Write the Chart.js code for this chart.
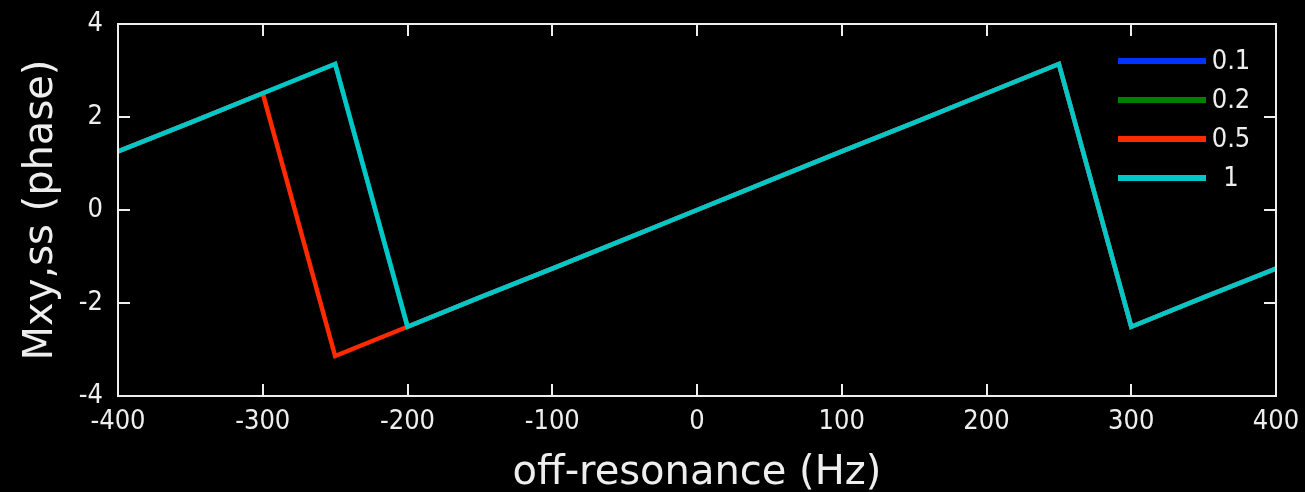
<!DOCTYPE html>
<html>
<head>
<meta charset="utf-8">
<script src="https://cdn.jsdelivr.net/npm/chart.js@4.4.1/dist/chart.umd.min.js"></script>
<style>
  html, body { margin: 0; padding: 0; background: #000; }
  #wrap { width: 1305px; height: 492px; }
</style>
</head>
<body>
<div id="wrap"><canvas id="chart" width="1305" height="492"></canvas></div>
<script>
// off-resonance frequencies (Hz)
const freqs = [-400, -350, -300, -250, -200, -150, -100, -50, 0, 50, 100, 150, 200, 250, 300, 350, 400];

// phase of Mxy,ss for each series
const phase01 = [1.26, 1.88, 2.51, 3.14, -2.51, -1.88, -1.26, -0.63, 0, 0.63, 1.26, 1.88, 2.51, 3.14, -2.51, -1.88, -1.26];
const phase02 = [1.26, 1.88, 2.51, 3.14, -2.51, -1.88, -1.26, -0.63, 0, 0.63, 1.26, 1.88, 2.51, 3.14, -2.51, -1.88, -1.26];
const phase05 = [1.26, 1.88, 2.51, -3.14, -2.51, -1.88, -1.26, -0.63, 0, 0.63, 1.26, 1.88, 2.51, 3.14, -2.51, -1.88, -1.26];
const phase1  = [1.26, 1.88, 2.51, 3.14, -2.51, -1.88, -1.26, -0.63, 0, 0.63, 1.26, 1.88, 2.51, 3.14, -2.51, -1.88, -1.26];

const seriesLabels = ["0.1", "0.2", "0.5", "1"];
const seriesColors = ["#0033ff", "#008000", "#ff2a00", "#00c8c8"];

const textColor = "#eeeeee";
const tickFont = "'Liberation Sans Narrow', 'DejaVu Sans Condensed', sans-serif";
const titleFont = "'DejaVu Sans', sans-serif";

function toPoints(ys) {
    return freqs.map((f, i) => ({ x: f, y: ys[i] }));
}

// black background, box on top/right, inward tick marks, legend
const framePlugin = {
    id: "frame",
    beforeDraw(chart) {
        const ctx = chart.ctx;
        ctx.save();
        ctx.fillStyle = "#000";
        ctx.fillRect(0, 0, chart.width, chart.height);
        ctx.restore();
    },
    afterDraw(chart) {
        const { ctx, chartArea: a, scales } = chart;
        const len = 12;
        ctx.save();
        ctx.strokeStyle = textColor;
        ctx.lineWidth = 2;
        ctx.beginPath();
        ctx.rect(a.left, a.top, a.right - a.left, a.bottom - a.top);
        scales.x.ticks.forEach(t => {
            const px = Math.round(scales.x.getPixelForValue(t.value));
            ctx.moveTo(px, a.bottom); ctx.lineTo(px, a.bottom - len);
            ctx.moveTo(px, a.top); ctx.lineTo(px, a.top + len);
        });
        scales.y.ticks.forEach(t => {
            const py = Math.round(scales.y.getPixelForValue(t.value));
            ctx.moveTo(a.left, py); ctx.lineTo(a.left + len, py);
            ctx.moveTo(a.right, py); ctx.lineTo(a.right - len, py);
        });
        ctx.stroke();

        // legend
        const lx0 = 1118, lx1 = 1206, ty = [61, 100, 139, 178];
        ctx.font = "27px " + tickFont;
        ctx.textAlign = "center";
        ctx.textBaseline = "middle";
        seriesLabels.forEach((lab, i) => {
            ctx.strokeStyle = seriesColors[i];
            ctx.lineWidth = 6;
            ctx.beginPath();
            ctx.moveTo(lx0, ty[i]); ctx.lineTo(lx1, ty[i]);
            ctx.stroke();
            ctx.fillStyle = textColor;
            ctx.fillText(lab, 1231, ty[i] + 1);
        });
        ctx.restore();
    }
};

const data = [phase01, phase02, phase05, phase1];

new Chart(document.getElementById("chart"), {
    type: "line",
    data: {
        datasets: data.map((ys, i) => ({
            label: seriesLabels[i],
            data: toPoints(ys),
            borderColor: seriesColors[i],
            borderWidth: 4.5,
            pointRadius: 0,
            tension: 0,
            order: 4 - i,
        })),
    },
    options: {
        responsive: false,
        devicePixelRatio: 1,
        animation: false,
        layout: { padding: { left: 0, top: 24, right: 29, bottom: 0 } },
        plugins: {
            legend: { display: false },
            tooltip: { enabled: false },
        },
        scales: {
            x: {
                type: "linear",
                min: -400,
                max: 400,
                grid: { display: false, drawTicks: false },
                border: { display: false },
                ticks: {
                    stepSize: 100,
                    color: textColor,
                    padding: 10,
                    maxRotation: 0,
                    font: { family: tickFont, size: 27 },
                },
                title: {
                    display: true,
                    text: "off-resonance (Hz)",
                    color: textColor,
                    font: { family: titleFont, size: 40 },
                    padding: { top: 0, bottom: -6 },
                },
                afterFit(scale) {
                    scale.height = 96;
                    scale.paddingLeft = 0;
                    scale.paddingRight = 0;
                },
            },
            y: {
                min: -4,
                max: 4,
                grid: { display: false, drawTicks: false },
                border: { display: false },
                ticks: {
                    stepSize: 2,
                    color: textColor,
                    padding: 15,
                    font: { family: tickFont, size: 27 },
                },
                title: {
                    display: true,
                    text: "Mxy,ss (phase)",
                    color: textColor,
                    font: { family: titleFont, size: 40 },
                    padding: { top: 18, bottom: 0 },
                },
                afterFit(scale) {
                    scale.width = 118;
                    scale.paddingTop = 0;
                    scale.paddingBottom = 0;
                },
            },
        },
    },
    plugins: [framePlugin],
});
</script>
</body>
</html>
